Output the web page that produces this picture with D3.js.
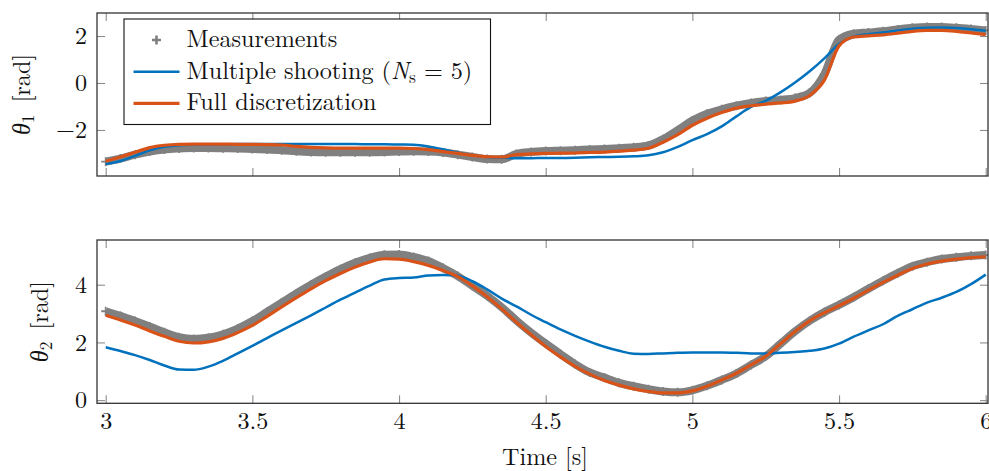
<!DOCTYPE html>
<html>
<head>
<meta charset="utf-8">
<script src="https://cdn.jsdelivr.net/npm/d3@7"></script>
</head>
<body style="margin:0; background:#fff">
<svg width="989" height="471"></svg>
<script>
// sample times [s]
var time = [3.00, 3.05, 3.10, 3.15, 3.20, 3.25, 3.30, 3.35, 3.40, 3.45,
            3.50, 3.55, 3.60, 3.65, 3.70, 3.75, 3.80, 3.85, 3.90, 3.95,
            4.00, 4.05, 4.10, 4.15, 4.20, 4.25, 4.30, 4.35, 4.40, 4.45,
            4.50, 4.55, 4.60, 4.65, 4.70, 4.75, 4.80, 4.85, 4.90, 4.95,
            5.00, 5.05, 5.10, 5.15, 5.20, 5.25, 5.30, 5.35, 5.40, 5.45,
            5.50, 5.55, 5.60, 5.65, 5.70, 5.75, 5.80, 5.85, 5.90, 5.95, 6.00];

// theta 1 [rad]
var theta1Meas = [-3.35, -3.22, -3.05, -2.92, -2.83, -2.79, -2.77, -2.77, -2.78, -2.79,
                  -2.81, -2.83, -2.86, -2.91, -2.94, -2.95, -2.95, -2.95, -2.95, -2.94,
                  -2.92, -2.91, -2.92, -2.96, -3.05, -3.15, -3.24, -3.25, -3.02, -2.94,
                  -2.90, -2.88, -2.86, -2.83, -2.81, -2.78, -2.74, -2.66, -2.39, -2.01,
                  -1.60, -1.31, -1.12, -0.97, -0.85, -0.77, -0.72, -0.64, -0.42, 0.38,
                  1.85, 2.10, 2.15, 2.20, 2.28, 2.35, 2.38, 2.38, 2.35, 2.30, 2.24];
var theta1MS = [-3.45, -3.32, -3.10, -2.87, -2.72, -2.65, -2.63, -2.62, -2.61, -2.60,
                -2.60, -2.60, -2.60, -2.60, -2.60, -2.60, -2.60, -2.60, -2.61, -2.61,
                -2.62, -2.63, -2.70, -2.82, -2.96, -3.08, -3.15, -3.18, -3.20, -3.20,
                -3.19, -3.19, -3.18, -3.16, -3.15, -3.14, -3.12, -3.08, -2.95, -2.72,
                -2.43, -2.18, -1.85, -1.42, -1.02, -0.76, -0.40, 0.02, 0.50, 1.05,
                1.66, 1.97, 2.08, 2.15, 2.24, 2.31, 2.35, 2.36, 2.34, 2.29, 2.22];
var theta1FD = [-3.33, -3.15, -2.95, -2.75, -2.65, -2.61, -2.60, -2.60, -2.60, -2.61,
                -2.61, -2.62, -2.64, -2.70, -2.74, -2.76, -2.77, -2.77, -2.77, -2.77,
                -2.77, -2.79, -2.84, -2.92, -3.00, -3.08, -3.14, -3.15, -3.05, -3.02,
                -3.00, -2.99, -2.98, -2.96, -2.94, -2.90, -2.86, -2.78, -2.52, -2.20,
                -1.80, -1.50, -1.26, -1.07, -0.97, -0.90, -0.85, -0.77, -0.53, 0.12,
                1.58, 1.96, 2.01, 2.05, 2.12, 2.20, 2.24, 2.24, 2.20, 2.13, 2.06];

// theta 2 [rad]
var theta2Meas = [3.08, 2.92, 2.74, 2.55, 2.35, 2.18, 2.12, 2.16, 2.28, 2.48,
                  2.74, 3.06, 3.38, 3.70, 4.00, 4.28, 4.54, 4.76, 4.93, 5.04,
                  5.05, 4.96, 4.82, 4.58, 4.30, 3.96, 3.62, 3.22, 2.76, 2.34,
                  1.96, 1.60, 1.25, 0.96, 0.78, 0.60, 0.48, 0.38, 0.30, 0.27,
                  0.34, 0.50, 0.70, 0.92, 1.22, 1.52, 1.95, 2.38, 2.75, 3.05,
                  3.30, 3.57, 3.86, 4.14, 4.40, 4.64, 4.78, 4.89, 4.95, 5.00, 5.03];
var theta2MS = [1.83, 1.70, 1.56, 1.39, 1.20, 1.06, 1.05, 1.16, 1.36, 1.62,
                1.88, 2.15, 2.42, 2.68, 2.94, 3.21, 3.48, 3.73, 3.97, 4.18,
                4.23, 4.25, 4.32, 4.34, 4.31, 4.12, 3.84, 3.52, 3.25, 2.96,
                2.70, 2.45, 2.23, 2.03, 1.85, 1.71, 1.61, 1.60, 1.62, 1.64,
                1.65, 1.65, 1.65, 1.64, 1.62, 1.62, 1.64, 1.67, 1.71, 1.79,
                1.96, 2.20, 2.42, 2.63, 2.92, 3.15, 3.38, 3.55, 3.75, 4.02, 4.35];
var theta2FD = [2.94, 2.78, 2.60, 2.40, 2.21, 2.04, 1.98, 2.02, 2.14, 2.34,
                2.59, 2.90, 3.23, 3.55, 3.86, 4.14, 4.39, 4.61, 4.79, 4.90,
                4.89, 4.80, 4.67, 4.49, 4.28, 3.96, 3.58, 3.16, 2.70, 2.27,
                1.86, 1.50, 1.17, 0.90, 0.68, 0.52, 0.39, 0.30, 0.25, 0.25,
                0.32, 0.48, 0.70, 0.93, 1.22, 1.52, 1.95, 2.38, 2.75, 3.03,
                3.27, 3.53, 3.81, 4.08, 4.33, 4.56, 4.72, 4.82, 4.89, 4.94, 4.97];

var xTicks = [3, 3.5, 4, 4.5, 5, 5.5, 6];
var theta1Ticks = [-2, 0, 2];
var theta2Ticks = [0, 2, 4];
var legendLabels = ['Measurements', 'Multiple shooting', 'Full discretization'];

var svg = d3.select('svg');
svg.append('rect').attr('width', 989).attr('height', 471).attr('fill', '#fff');

var gray = '#808080', blue = '#0072BD', orange = '#D95319';
var FONT = "'Latin Modern Roman', 'Liberation Serif', serif";
var FS = 24.2, SUB = 17.5;

var x = d3.scaleLinear().domain([2.9703, 6.0078]).range([97, 988]);

var panels = [
  {id: 1, top: 13, bottom: 176, domain: [-3.96, 2.98], ticks: theta1Ticks,
   meas: theta1Meas, ms: theta1MS, fd: theta1FD, labelX: 30, xLabels: false},
  {id: 2, top: 240, bottom: 403.3, domain: [-0.11, 5.55], ticks: theta2Ticks,
   meas: theta2Meas, ms: theta2MS, fd: theta2FD, labelX: 48, xLabels: true}
];

function fixAxis(g) {
  g.attr('font-family', null).attr('font-size', null);
  g.selectAll('text').attr('font-size', FS).attr('fill', '#111');
  g.selectAll('.tick line').attr('stroke', '#8c8c8c').attr('stroke-width', 1.1);
  g.select('.domain').remove();
}

panels.forEach(function(p) {
  var y = d3.scaleLinear().domain(p.domain).range([p.bottom, p.top]);
  var g = svg.append('g');

  svg.append('clipPath').attr('id', 'clip' + p.id)
    .append('rect')
    .attr('x', 97).attr('y', p.top)
    .attr('width', 891).attr('height', p.bottom - p.top);

  var plot = g.append('g').attr('clip-path', 'url(#clip' + p.id + ')');

  var line = function(vals) {
    return d3.line()
      .x(function(d, i) { return x(time[i]); })
      .y(function(d) { return y(d); })
      .curve(d3.curveMonotoneX)(vals);
  };

  // measurements: '+' markers over a band of the same grey
  plot.append('path')
    .attr('d', line(p.meas))
    .attr('fill', 'none')
    .attr('stroke', gray)
    .attr('stroke-width', 8);
  plot.selectAll('.meas')
    .data(p.meas)
    .enter()
    .append('path')
    .attr('class', 'meas')
    .attr('transform', function(d, i) { return 'translate(' + x(time[i]) + ',' + y(d) + ')'; })
    .attr('d', 'M-4.5,0H4.5M0,-4.5V4.5')
    .attr('stroke', gray)
    .attr('stroke-width', 1.8);

  plot.append('path')
    .attr('d', line(p.ms))
    .attr('fill', 'none')
    .attr('stroke', blue)
    .attr('stroke-width', 2.5);

  plot.append('path')
    .attr('d', line(p.fd))
    .attr('fill', 'none')
    .attr('stroke', orange)
    .attr('stroke-width', 3.2);

  // ticks pointing inwards on all four sides
  g.append('g')
    .attr('transform', 'translate(0,' + p.bottom + ')')
    .call(d3.axisBottom(x).tickValues(xTicks).tickSize(-8).tickPadding(9)
      .tickFormat(p.xLabels ? d3.format('') : ''))
    .call(fixAxis);
  g.append('g')
    .attr('transform', 'translate(0,' + p.top + ')')
    .call(d3.axisTop(x).tickValues(xTicks).tickSize(-8).tickFormat(''))
    .call(fixAxis);
  g.append('g')
    .attr('transform', 'translate(97,0)')
    .call(d3.axisLeft(y).tickValues(p.ticks).tickSize(-8).tickPadding(10)
      .tickFormat(d3.format('')))
    .call(fixAxis);
  g.append('g')
    .attr('transform', 'translate(988,0)')
    .call(d3.axisRight(y).tickValues(p.ticks).tickSize(-8).tickFormat(''))
    .call(fixAxis);

  g.append('rect')
    .attr('x', 97).attr('y', p.top)
    .attr('width', 891).attr('height', p.bottom - p.top)
    .attr('fill', 'none')
    .attr('stroke', '#333')
    .attr('stroke-width', 1.3);

  // y label: theta_i [rad]
  var lab = svg.append('text')
    .attr('transform', 'translate(' + p.labelX + ',' + (p.top + p.bottom) / 2 + ') rotate(-90)')
    .attr('text-anchor', 'middle')
    .attr('font-size', FS);
  lab.append('tspan').attr('font-style', 'italic').text('θ');
  lab.append('tspan').attr('font-size', SUB).attr('dy', 4).text(p.id);
  lab.append('tspan').attr('dy', -4).text('\u2002[rad]');
});

svg.append('text')
  .attr('x', 545).attr('y', 465)
  .attr('text-anchor', 'middle')
  .attr('font-size', FS)
  .text('Time [s]');

// legend
var leg = svg.append('g').attr('transform', 'translate(124,19)');
leg.append('rect')
  .attr('width', 366.5).attr('height', 105.5)
  .attr('fill', '#fff')
  .attr('stroke', '#111')
  .attr('stroke-width', 1.1);

var rowY = [21, 52.7, 84.3];
leg.append('path')
  .attr('transform', 'translate(32.5,' + rowY[0] + ')')
  .attr('d', 'M-4.5,0H4.5M0,-4.5V4.5')
  .attr('stroke', gray).attr('stroke-width', 2.6);
leg.append('line')
  .attr('x1', 9.5).attr('x2', 55.5).attr('y1', rowY[1]).attr('y2', rowY[1])
  .attr('stroke', blue).attr('stroke-width', 2.5);
leg.append('line')
  .attr('x1', 9.5).attr('x2', 55.5).attr('y1', rowY[2]).attr('y2', rowY[2])
  .attr('stroke', orange).attr('stroke-width', 3.2);

leg.append('text').attr('x', 62.5).attr('y', rowY[0] + 6.8)
  .attr('font-size', FS).text(legendLabels[0]);
var t2 = leg.append('text').attr('x', 62.5).attr('y', rowY[1] + 6.8)
  .attr('font-size', FS);
t2.append('tspan').text(legendLabels[1] + ' (');
t2.append('tspan').attr('font-style', 'italic').text('N');
t2.append('tspan').attr('font-size', SUB).attr('dy', 4).text('s');
t2.append('tspan').attr('dy', -4).text(' = 5)');
leg.append('text').attr('x', 62.5).attr('y', rowY[2] + 6.8)
  .attr('font-size', FS).text(legendLabels[2]);

svg.selectAll('text').style('font-family', FONT).style('fill', '#111');
</script>
</body>
</html>
